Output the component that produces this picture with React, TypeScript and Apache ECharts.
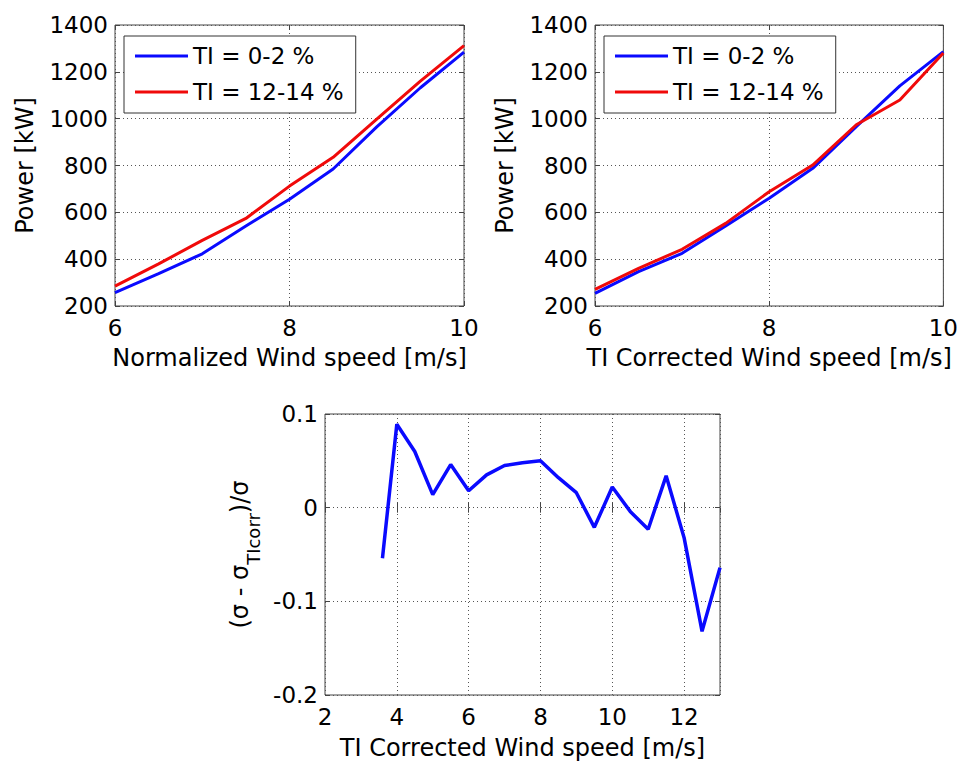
import React, { useEffect, useRef } from "react";
import * as echarts from "echarts";

// ---- data ----
const speedTop: number[] = [6, 6.5, 7, 7.5, 8, 8.5, 9, 9.5, 10];
const normBlue: number[] = [257, 338, 423, 542, 656, 785, 965, 1132, 1284];
const normRed: number[] = [285, 380, 480, 574, 712, 835, 998, 1160, 1312];
const corrBlue: number[] = [254, 347, 425, 542, 660, 788, 966, 1140, 1286];
const corrRed: number[] = [271, 361, 442, 553, 688, 802, 974, 1080, 1280];

const speedBottom: number[] = [3.6, 4, 4.5, 5, 5.5, 6, 6.5, 7, 7.5, 8, 8.5, 9, 9.5, 10, 10.5, 11, 11.5, 12, 12.5, 13];
const sigmaDiff: number[] = [-0.054, 0.089, 0.06, 0.014, 0.046, 0.018, 0.035, 0.045, 0.048, 0.05, 0.032, 0.016, -0.021, 0.022, -0.004, -0.023, 0.034, -0.032, -0.132, -0.064];

const legendNames: string[] = ["TI = 0-2 %", "TI = 12-14 %"];
const xTitleLeft = "Normalized Wind speed [m/s]";
const xTitleRight = "TI Corrected Wind speed [m/s]";
const yTitleTop = "Power [kW]";

const FONT = "DejaVu Sans";
const BLUE = "#0a0aff";
const RED = "#f00a0a";
const FRAME = "#444";
const GRIDC = "#555";

const pairs = (xs: number[], ys: number[]) => xs.map((x, i) => [x, ys[i]]);
const plain = (v: number) => String(Math.round(v * 1000) / 1000);

export default function App() {
  const ref = useRef<HTMLDivElement>(null);
  useEffect(() => {
    if (!ref.current) return;
    const chart = echarts.init(ref.current, undefined, { renderer: "svg" });

    const label = { fontFamily: FONT, fontSize: 23, color: "#000" };
    const split = { show: true, lineStyle: { color: GRIDC, type: [1, 3] as any, width: 1 } };
    const tick = { show: true, inside: true, length: 5, lineStyle: { color: FRAME } };

    const mainX = (gi: number, min: number, max: number, interval: number, name: string, gap: number, extra: any = {}) => ({
      type: "value", gridIndex: gi, min, max, interval, position: "bottom",
      name, nameLocation: "middle", nameGap: gap, nameTextStyle: { ...label, fontSize: 24 },
      axisLine: { show: false }, axisTick: tick, splitLine: split,
      axisLabel: { ...label, margin: 10, formatter: plain, ...extra },
    });
    const topX = (gi: number, min: number, max: number, interval: number) => ({
      type: "value", gridIndex: gi, min, max, interval, position: "top",
      axisLine: { show: false }, axisTick: tick, splitLine: { show: false }, axisLabel: { show: false },
    });
    const mainY = (gi: number, min: number, max: number, interval: number, name: string, gap: number) => ({
      type: "value", gridIndex: gi, min, max, interval, position: "left",
      name, nameLocation: "middle", nameGap: gap, nameRotate: 90, nameTextStyle: { ...label, fontSize: 24 },
      axisLine: { show: false }, axisTick: tick, splitLine: split,
      axisLabel: { ...label, margin: 7, formatter: plain },
    });
    const rightY = (gi: number, min: number, max: number, interval: number) => ({
      type: "value", gridIndex: gi, min, max, interval, position: "right",
      axisLine: { show: false }, axisTick: tick, splitLine: { show: false }, axisLabel: { show: false },
    });

    const legendBox = (left: number) => ({
      left, top: 36, orient: "vertical",
      data: legendNames,
      icon: "rect",
      backgroundColor: "#fff", borderColor: "#333", borderWidth: 1,
      padding: [7, 12, 8, 11], itemGap: 10, itemWidth: 53, itemHeight: 3,
      textStyle: { ...label, fontSize: 23, lineHeight: 26 },
    });

    const lineSeries = (name: string, xi: number, yi: number, data: number[][], color: string, width = 3) => ({
      type: "line", name, xAxisIndex: xi, yAxisIndex: yi, data,
      symbol: "none", showSymbol: false, smooth: false,
      lineStyle: { color, width }, itemStyle: { color },
    });

    const option: any = {
      animation: false,
      backgroundColor: "#fff",
      grid: [
        { left: 115, top: 25, width: 349, height: 281, show: true, borderColor: FRAME, borderWidth: 1 },
        { left: 595, top: 25, width: 350, height: 281, show: true, borderColor: FRAME, borderWidth: 1 },
        { left: 325, top: 414, width: 395, height: 281, show: true, borderColor: FRAME, borderWidth: 1 },
      ],
      xAxis: [
        mainX(0, 6, 10, 2, xTitleLeft, 40),
        topX(0, 6, 10, 2),
        mainX(1, 6, 10, 2, xTitleRight, 40),
        topX(1, 6, 10, 2),
        mainX(2, 2, 13, 2, xTitleRight, 41, { showMaxLabel: false }),
        topX(2, 2, 13, 2),
      ],
      yAxis: [
        mainY(0, 200, 1400, 200, yTitleTop, 78),
        rightY(0, 200, 1400, 200),
        mainY(1, 200, 1400, 200, yTitleTop, 78),
        rightY(1, 200, 1400, 200),
        {
          ...mainY(2, -0.2, 0.1, 0.1, "{a|(σ - σ}{b|TIcorr}{a|)/σ}", 70),
          nameTextStyle: {
            ...label,
            rich: {
              a: { fontFamily: FONT, fontSize: 24, color: "#000", lineHeight: 30 },
              b: { fontFamily: FONT, fontSize: 18, color: "#000", lineHeight: 30, padding: [26, 0, 0, 0] },
            },
          },
        },
        rightY(2, -0.2, 0.1, 0.1),
      ],
      legend: [legendBox(124), legendBox(604)],
      series: [
        lineSeries(legendNames[0], 0, 0, pairs(speedTop, normBlue), BLUE),
        lineSeries(legendNames[1], 0, 0, pairs(speedTop, normRed), RED),
        lineSeries(legendNames[0], 2, 2, pairs(speedTop, corrBlue), BLUE),
        lineSeries(legendNames[1], 2, 2, pairs(speedTop, corrRed), RED),
        lineSeries("sigma", 4, 4, pairs(speedBottom, sigmaDiff), BLUE, 3.5),
      ],
    };
    chart.setOption(option);
    return () => chart.dispose();
  }, []);
  return <div ref={ref} style={{ position: "fixed", left: 0, top: 0, width: 961, height: 761, background: "#fff" }} />;
}
